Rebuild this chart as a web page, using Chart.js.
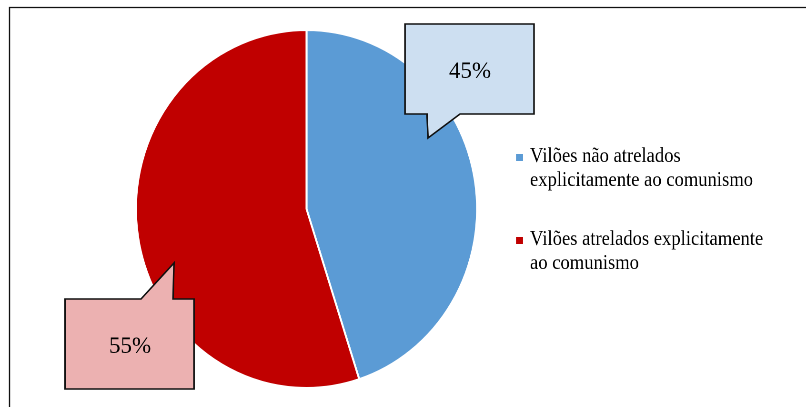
<!DOCTYPE html>
<html>
<head>
<meta charset="utf-8">
<script src="https://cdn.jsdelivr.net/npm/chart.js@4"></script>
<style>
  html, body { margin: 0; padding: 0; background: #fff; }
  #main { display: block; }
  #warm { position: absolute; left: 560px; top: 300px; font: 21px "Liberation Serif", serif; color: rgba(0,0,0,0); }
</style>
</head>
<body>
<div id="warm">Vilões não atrelados 45% 55%</div>
<canvas id="main" width="846" height="407" style="width:806px;height:407px"></canvas>
<script>
const LABELS = ['Vilões não atrelados explicitamente ao comunismo', 'Vilões atrelados explicitamente ao comunismo']
const LEGEND_LINES = [['Vilões não atrelados', 'explicitamente ao comunismo'], ['Vilões atrelados explicitamente', 'ao comunismo']]
const VALUES = [45, 55]
const COLORS = ['#5b9bd5', '#c00000']
const CALLOUT_FILLS = ['#cddff1', '#ecb1b1']

// the pie in the picture is a bit narrower than tall, so the canvas is drawn wider and squeezed by css
const SCREEN_W = 806
const LOGICAL_W = 846
const SX = LOGICAL_W / SCREEN_W
const FONT = '"Liberation Serif", serif'

const canvas = document.querySelector('#main')
const ctx = canvas.getContext('2d')

function poly(c, pts, fill) {
    c.beginPath()
    c.moveTo(pts[0][0], pts[0][1])
    for (let i = 1; i < pts.length; i++) c.lineTo(pts[i][0], pts[i][1])
    c.closePath()
    c.fillStyle = fill
    c.fill()
    c.lineWidth = 1.6
    c.strokeStyle = '#111'
    c.lineJoin = 'miter'
    c.stroke()
}

const extras = {
    id: 'extras',
    afterDraw(chart) {
        const c = chart.ctx
        c.save()
        c.scale(SX, 1)

        // frame
        c.beginPath()
        c.moveTo(9.5, 407)
        c.lineTo(9.5, 7.5)
        c.lineTo(806, 7.5)
        c.lineWidth = 1.3
        c.strokeStyle = '#111'
        c.stroke()

        // callouts
        poly(c, [[405, 24], [534, 24], [534, 114], [460, 114], [428, 138], [427, 114], [405, 114]], CALLOUT_FILLS[0])
        poly(c, [[65, 299], [141, 299], [174, 263], [173, 299], [194, 299], [194, 389], [65, 389]], CALLOUT_FILLS[1])

        c.fillStyle = '#000'
        c.font = '23px ' + FONT
        c.textAlign = 'center'
        c.textBaseline = 'alphabetic'
        c.fillText(VALUES[0] + '%', 470, 78)
        c.fillText(VALUES[1] + '%', 130, 353)

        // legend, text a little narrower like in the picture
        c.textAlign = 'left'
        c.font = '21px ' + FONT
        const k = Math.min(1, 223 / c.measureText('explicitamente ao comunismo').width)
        const tops = [162, 245]
        LEGEND_LINES.forEach((lines, i) => {
            c.fillStyle = COLORS[i]
            c.fillRect(516, tops[i] - 8, 7, 7)
            c.fillStyle = '#000'
            lines.forEach((t, j) => c.fillText(t, 530, tops[i] + j * 24, c.measureText(t).width * k))
        })
        c.restore()
    }
}

// chart area centred on the pie: centre (306.5, 209) on screen, radius 180
const cx = 306.5 * SX
const padLeft = cx - 180
const padRight = LOGICAL_W - (cx + 180)

function draw() {
    new Chart(ctx, {
        type: 'pie',
        data: {
            labels: LABELS,
            datasets: [{
                data: VALUES,
                backgroundColor: COLORS,
                borderColor: '#fff',
                borderWidth: 2
            }]
        },
        options: {
            responsive: false,
            animation: false,
            devicePixelRatio: 2,
            layout: { padding: { top: 29, bottom: 18, left: padLeft, right: padRight } },
            plugins: {
                legend: { display: false },
                tooltip: { enabled: false }
            }
        },
        plugins: [extras]
    })
}

window.addEventListener('load', () => {
    document.fonts.load('21px "Liberation Serif"', 'Vilões')
        .then(() => document.fonts.ready)
        .then(draw, draw)
})
</script>
</body>
</html>
